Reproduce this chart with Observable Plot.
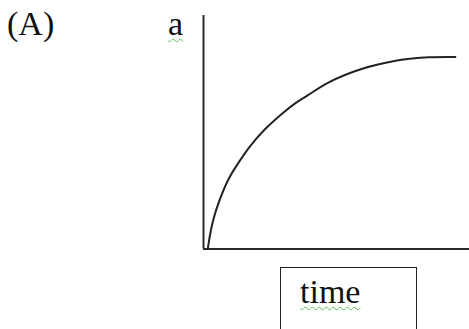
<!DOCTYPE html>
<html>
<head>
<meta charset="utf-8">
<script src="https://cdn.jsdelivr.net/npm/d3@7"></script>
<script src="https://cdn.jsdelivr.net/npm/@observablehq/plot@0.6"></script>
<style>
  html, body { margin: 0; padding: 0; background: #fff; overflow: hidden; }
  #wrap { position: relative; width: 469px; height: 329px; font-family: "Liberation Serif", "Times New Roman", serif; color: #111; }
  #wrap svg { position: absolute; left: 0; top: 0; }
  .lbl { position: absolute; line-height: 1; white-space: nowrap; }
  .squig { text-decoration: underline wavy rgb(90,190,90); text-decoration-thickness: 1.3px; text-underline-offset: 3px; }
  #xbox { position: absolute; left: 280px; top: 267px; width: 137px; height: 80px; border: 1.5px solid #222; box-sizing: border-box; }
</style>
</head>
<body>
<div id="wrap"></div>
<script>
// Values (time and a in arbitrary units, 0–10 each)
const time  = [0.16, 0.29, 0.45, 0.67, 0.95, 1.33, 1.77, 2.33, 3.02, 3.46, 3.90, 4.71, 5.97, 7.22, 7.85, 8.47, 9.47];
const accel = [0.00, 0.87, 1.58, 2.29, 3.01, 3.72, 4.43, 5.15, 5.86, 6.25, 6.57, 7.14, 7.72, 8.06, 8.16, 8.21, 8.22];
const panelLabel = "(A)";
const yLabel = "a";
const xLabel = "time";

const data = time.map((t, i) => ({t, a: accel[i]}));

const chart = Plot.plot({
  width: 469,
  height: 329,
  marginLeft: 203,
  marginRight: 0,
  marginTop: 15,
  marginBottom: 80.5,
  x: {domain: [0, 10], axis: null},
  y: {domain: [0, 10], axis: null},
  style: {background: "transparent", overflow: "visible"},
  marks: [
    Plot.ruleX([0], {y1: 0, y2: 10, stroke: "#2a2a2a", strokeWidth: 2}),
    Plot.ruleY([0], {x1: 0, x2: 10, stroke: "#2a2a2a", strokeWidth: 2}),
    Plot.line(data, {x: "t", y: "a", curve: "catmull-rom", stroke: "#222", strokeWidth: 2})
  ]
});

const wrap = document.getElementById("wrap");
wrap.appendChild(chart);

function label(text, left, top, size, squig) {
  const d = document.createElement("div");
  d.className = "lbl";
  d.style.left = left + "px";
  d.style.top = top + "px";
  d.style.fontSize = size + "px";
  const s = document.createElement("span");
  if (squig) s.className = "squig";
  s.textContent = text;
  d.appendChild(s);
  wrap.appendChild(d);
  return d;
}

label(panelLabel, 7, 6.5, 34, false);
label(yLabel, 168, 6.5, 34, true);

const box = document.createElement("div");
box.id = "xbox";
wrap.appendChild(box);
label(xLabel, 300, 274.5, 34, true);
</script>
</body>
</html>
